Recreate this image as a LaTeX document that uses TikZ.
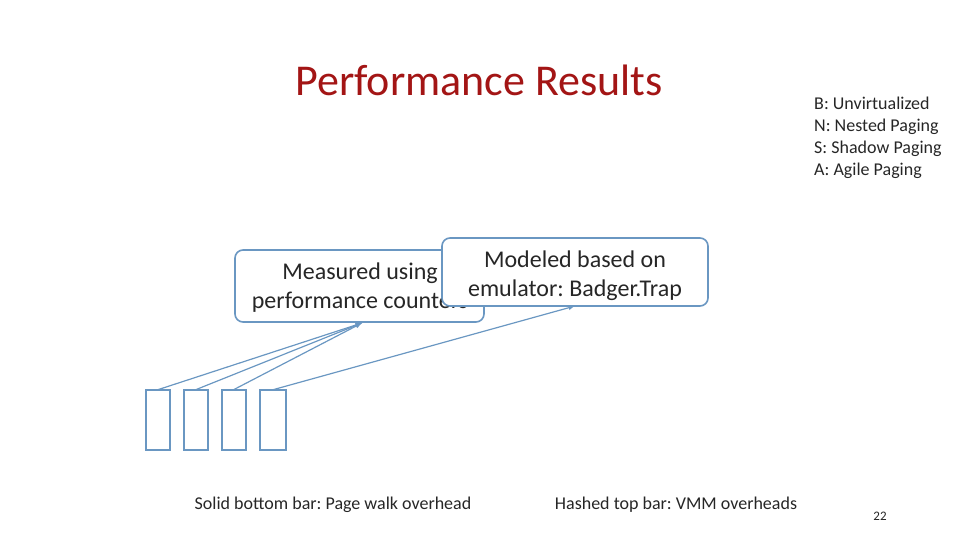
\documentclass[tikz,border=0pt]{standalone}
\usepackage{fontspec}
\setmainfont{Carlito}
\frenchspacing
\definecolor{tred}{HTML}{A31515}
\definecolor{bblue}{HTML}{6A97C2}
\definecolor{tgray}{HTML}{262626}
\begin{document}
\begin{tikzpicture}[x=1pt,y=-1pt,
  cbox/.style={draw=bblue,line width=1.6pt,rounded corners=8pt,fill=white},
  bar/.style={draw=bblue,line width=1.8pt},
  arr/.style={draw=bblue,line width=1.2pt,-latex},
  txt/.style={text=tgray,font=\fontsize{24}{29}\selectfont,align=center,inner sep=0}]
\useasboundingbox (0,0) rectangle (960,540);
\node[text=tred,font=\fontsize{44}{48}\selectfont] (title) at (479,80) {Performance Results};
\node[anchor=north west,text=tgray,font=\fontsize{18}{22}\selectfont,align=left,inner sep=0] (legend) at (814,97) {B: Unvirtualized\\N: Nested Paging\\S: Shadow Paging\\A: Agile Paging};
\draw[cbox] (235,250) rectangle (484,322);
\node[txt] (m) at (360,288) {Measured using\\performance counters};
\coordinate (mb) at (362,323);
\draw[cbox] (442,238) rectangle (708,306);
\node[txt] (e) at (575,276) {Modeled based on\\emulator: Badger.Trap};
\coordinate (eb) at (575,306);
\foreach \i/\a/\b in {1/146/170,2/184/208,3/222/246,4/260/286}{
  \draw[bar] (\a,390) rectangle (\b,450);
  \coordinate (t\i) at ({(\a+\b)/2-1},390);
}
\draw[arr] (t1) -- (mb);
\draw[arr] (t2) -- (mb);
\draw[arr] (t3) -- (mb);
\draw[arr] (t4) -- (eb);
\node[text=tgray,font=\fontsize{18}{20}\selectfont] (s) at (333,505) {Solid bottom bar: Page walk overhead};
\node[text=tgray,font=\fontsize{18}{20}\selectfont] (h) at (676,505) {Hashed top bar: VMM overheads};
\node[text=tgray,font=\fontsize{13}{15}\selectfont] (p) at (880,516) {22};
\end{tikzpicture}
\end{document}
